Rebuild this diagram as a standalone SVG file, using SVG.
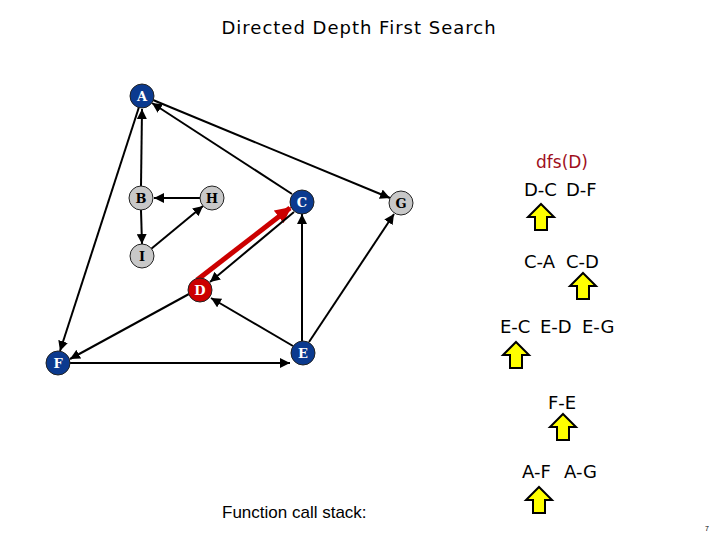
<svg xmlns="http://www.w3.org/2000/svg" width="720" height="540" viewBox="0 0 720 540">
<style>
.n circle{stroke:#222;stroke-width:1}
.blue{fill:#0b3a8f}
.gray{fill:#c8c8c8}
.red{fill:#cc0000}
.lbl{font-family:"DejaVu Serif","Liberation Serif",serif;font-weight:bold;font-size:13px;text-anchor:middle}
.lw{fill:#fff}
.lb{fill:#000}
.e{stroke:#000;stroke-width:2;fill:none;marker-end:url(#ah)}
.stk{font-family:"DejaVu Sans","Liberation Sans",sans-serif;font-size:18px;fill:#000}
.ya{fill:#ffff00;stroke:#000;stroke-width:2;stroke-linejoin:miter}
</style>
<defs>
<marker id="ah" viewBox="0 0 10 10" refX="10" refY="5" markerWidth="5" markerHeight="5" orient="auto" markerUnits="strokeWidth">
<path d="M0,0 L10,5 L0,10 z" fill="#000"/>
</marker>
<marker id="rh" viewBox="0 0 10 10" refX="9" refY="5" markerWidth="3.2" markerHeight="3.2" orient="auto" markerUnits="strokeWidth">
<path d="M0,0 L10,5 L0,10 z" fill="#cc0000"/>
</marker>
<polygon id="yarrow" points="0,0 13,13 6,13 6,26 -6,26 -6,13 -13,13"/>
</defs>
<rect width="720" height="540" fill="#fff"/>
<text x="359" y="34" font-family="DejaVu Sans,'Liberation Sans',sans-serif" font-size="18" letter-spacing="1" text-anchor="middle" fill="#000">Directed Depth First Search</text>

<g id="connectors">
<line class="e" x1="141" y1="186" x2="142" y2="109"/>
<line class="e" x1="292" y1="194" x2="152" y2="103"/>
<line class="e" x1="153" y1="100" x2="390" y2="198"/>
<line class="e" x1="139" y1="107" x2="60" y2="351"/>
<line class="e" x1="200" y1="198" x2="154" y2="198"/>
<line class="e" x1="141" y1="210" x2="142" y2="244"/>
<line class="e" x1="151" y1="249" x2="203" y2="206"/>
<line stroke="#cc0000" stroke-width="5" fill="none" marker-end="url(#rh)" x1="197" y1="280" x2="290" y2="208"/>
<line class="e" x1="294" y1="212" x2="210" y2="282"/>
<line class="e" x1="189" y1="294" x2="70" y2="359"/>
<line class="e" x1="293" y1="346" x2="211" y2="298"/>
<line class="e" x1="70" y1="363" x2="290" y2="363"/>
<line class="e" x1="302" y1="341" x2="302" y2="214"/>
<line class="e" x1="309" y1="342" x2="394" y2="214"/>
</g>

<g id="node-A" class="n"><circle class="blue" cx="142" cy="96" r="12"/><text class="lbl lw" x="142" y="101">A</text></g>
<g id="node-B" class="n"><circle class="gray" cx="141" cy="198" r="12"/><text class="lbl lb" x="141" y="203">B</text></g>
<g id="node-H" class="n"><circle class="gray" cx="212" cy="198" r="12"/><text class="lbl lb" x="212" y="203">H</text></g>
<g id="node-C" class="n"><circle class="blue" cx="302" cy="202" r="12"/><text class="lbl lw" x="302" y="207">C</text></g>
<g id="node-G" class="n"><circle class="gray" cx="401" cy="203" r="12"/><text class="lbl lb" x="401" y="208">G</text></g>
<g id="node-I" class="n"><circle class="gray" cx="142" cy="256" r="12"/><text class="lbl lb" x="142" y="261">I</text></g>
<g id="node-D" class="n"><circle class="red" cx="200" cy="290" r="12"/><text class="lbl lw" x="200" y="295">D</text></g>
<g id="node-E" class="n"><circle class="blue" cx="303" cy="353" r="12"/><text class="lbl lw" x="303" y="358">E</text></g>
<g id="node-F" class="n"><circle class="blue" cx="58" cy="363" r="12"/><text class="lbl lw" x="58" y="368">F</text></g>

<g id="stack">
<text x="562" y="168" font-family="DejaVu Sans,'Liberation Sans',sans-serif" font-size="17" fill="#a0101c" text-anchor="middle">dfs(D)</text>
<text class="stk" x="524" y="196">D-C</text><text class="stk" x="566" y="196">D-F</text>
<use href="#yarrow" class="ya" x="541" y="204"/>
<text class="stk" x="524" y="268">C-A</text><text class="stk" x="566" y="268">C-D</text>
<use href="#yarrow" class="ya" x="583" y="273"/>
<text class="stk" x="500" y="333">E-C</text><text class="stk" x="540" y="333">E-D</text><text class="stk" x="582" y="333">E-G</text>
<use href="#yarrow" class="ya" x="516" y="342"/>
<text class="stk" x="548" y="409">F-E</text>
<use href="#yarrow" class="ya" x="563" y="414"/>
<text class="stk" x="522" y="478">A-F</text><text class="stk" x="564" y="478">A-G</text>
<use href="#yarrow" class="ya" x="539" y="487"/>
</g>
<text x="222" y="518" font-family="'Liberation Sans',Arial,sans-serif" font-size="17" fill="#000">Function call stack:</text>
<text x="707" y="531" font-family="'Liberation Sans',sans-serif" font-size="7" fill="#000" text-anchor="middle">7</text>
</svg>
